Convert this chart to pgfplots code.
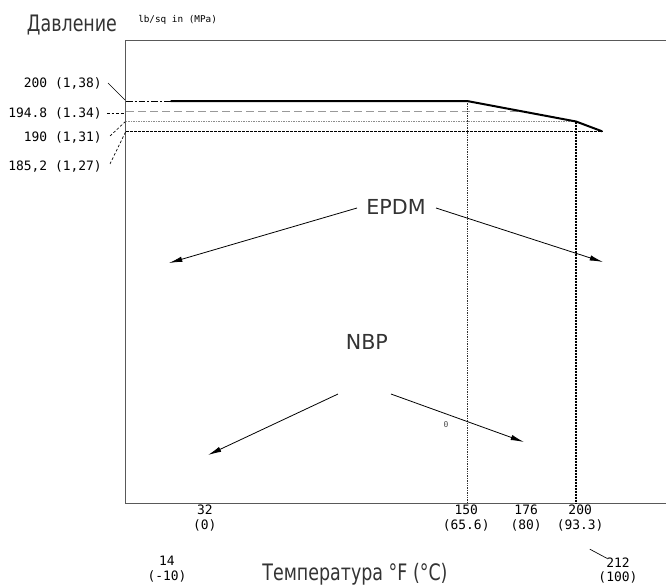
\documentclass[border=0pt]{standalone}
\usepackage{fontspec}
\setmainfont{DejaVu Sans}
\newfontfamily\gost[FakeStretch=0.77]{DejaVu Sans}
\newfontfamily\mono{DejaVu Sans Mono}
\usepackage{pgfplots}
\pgfplotsset{compat=1.18}
\usetikzlibrary{arrows.meta}
\begin{document}
\begin{tikzpicture}
\useasboundingbox (-94.5pt,-62.25pt) rectangle (405pt,377.25pt);
\begin{axis}[at={(0,0)}, anchor=south west, scale only axis,
  width=405pt, height=346.5pt,
  xmin=-6.42, xmax=241.28, ymin=3.9, ymax=229.27,
  axis line style={draw=none}, xtick=\empty, ytick=\empty, clip=false]
% frame (open on the right)
\draw[line width=0.75pt, black!65] (rel axis cs:1.05,1) -- (rel axis cs:0,1) -- (rel axis cs:0,0) -- (rel axis cs:1.05,0);
% reference lines
\addplot[black, line width=0.5pt, dash pattern=on 5pt off 1.5pt on 1.5pt off 1.5pt] coordinates {(-6.42,200) (14,200)};
\addplot[black!40, line width=0.9pt, dash pattern=on 6pt off 3pt] coordinates {(-6.42,194.8) (176,194.8)};
\addplot[black!45, line width=0.9pt, dash pattern=on 0.75pt off 0.5pt] coordinates {(-6.42,190) (200,190)};
\addplot[black, line width=0.5pt, dash pattern=on 2pt off 1pt] coordinates {(-6.42,185.2) (212,185.2)};
\addplot[black!80, line width=0.5pt, dash pattern=on 1pt off 0.8pt] coordinates {(150,200) (150,3.9)};
\addplot[black, line width=0.8pt, dash pattern=on 1.5pt off 0.75pt] coordinates {(200,190) (200,3.9)};
% main curve
\addplot[black, line width=1.5pt] coordinates {(14,200) (150,200) (200,190) (212,185.2)};
% title and units
\node[anchor=base, inner sep=0, font=\gost\fontsize{17}{20}\selectfont, text=black!80] at (rel axis cs:-0.1,1.0195) {Давление};
\node[anchor=base west, inner sep=0, font=\mono\fontsize{7}{8}\selectfont] at (rel axis cs:0.0222,1.0396) {lb/sq in (MPa)};
% left labels
\begin{scope}[every node/.style={anchor=east, inner sep=0, font=\mono\fontsize{9.7}{11}\selectfont}]
\node at (rel axis cs:-0.0444,0.909) {200 (1,38)};
\node at (rel axis cs:-0.0444,0.844) {194.8 (1.34)};
\node at (rel axis cs:-0.0444,0.792) {190 (1,31)};
\node at (rel axis cs:-0.0444,0.729) {185,2 (1,27)};
\end{scope}
\draw[black, line width=0.5pt] (rel axis cs:-0.0333,0.909) -- (rel axis cs:-0.0019,0.8723);
\draw[black, line width=0.5pt, dash pattern=on 2pt off 1.5pt] (rel axis cs:-0.0352,0.844) -- (rel axis cs:-0.0037,0.844);
\draw[black, line width=0.5pt, dash pattern=on 2pt off 1.5pt] (rel axis cs:-0.0296,0.7944) -- (rel axis cs:-0.0019,0.8247);
\draw[black, line width=0.5pt, dash pattern=on 2pt off 1.5pt] (rel axis cs:-0.0296,0.7338) -- (rel axis cs:0,0.8052);
% bottom labels
\begin{scope}[every node/.style={anchor=north, align=center, inner sep=0, font=\mono\fontsize{9.7}{11.25}\selectfont}]
\node at (rel axis cs:0.146,-0.0043) {32\\(0)};
\node at (rel axis cs:0.630,-0.0043) {150\\(65.6)};
\node at (rel axis cs:0.741,-0.0043) {176\\(80)};
\node at (rel axis cs:0.841,-0.0043) {200\\(93.3)};
\node at (rel axis cs:0.0759,-0.1147) {14\\(-10)};
\end{scope}
\node[anchor=north, align=center, inner sep=0, font=\mono\fontsize{9.7}{10.3}\selectfont] at (rel axis cs:0.911,-0.1190) {212\\(100)};
\draw[black, line width=0.5pt] (rel axis cs:0.859,-0.1000) -- (rel axis cs:0.891,-0.1200);
\node[anchor=base, inner sep=0, font=\gost\fontsize{17}{20}\selectfont, text=black!80] at (rel axis cs:0.424,-0.1667) {Температура °F (°C)};
% annotations
\node[anchor=base, inner sep=0, font=\fontsize{15.5}{18}\selectfont, text=black!80] at (rel axis cs:0.5,0.6234) {EPDM};
\node[anchor=base, inner sep=0, font=\fontsize{15.5}{18}\selectfont, text=black!80] at (rel axis cs:0.446,0.3312) {NBP};
\node[inner sep=0, font=\mono\fontsize{6}{7}\selectfont, text=black!70] at (rel axis cs:0.5926,0.1688) {0};
\begin{scope}[line width=0.6pt, -{Latex[length=10pt,width=4pt]}]
\draw (rel axis cs:0.4278,0.6385) -- (rel axis cs:0.0796,0.5195);
\draw (rel axis cs:0.5741,0.6385) -- (rel axis cs:0.8833,0.5216);
\draw (rel axis cs:0.3926,0.2359) -- (rel axis cs:0.1519,0.1039);
\draw (rel axis cs:0.4907,0.2359) -- (rel axis cs:0.7370,0.1320);
\end{scope}
\end{axis}
\end{tikzpicture}
\end{document}
